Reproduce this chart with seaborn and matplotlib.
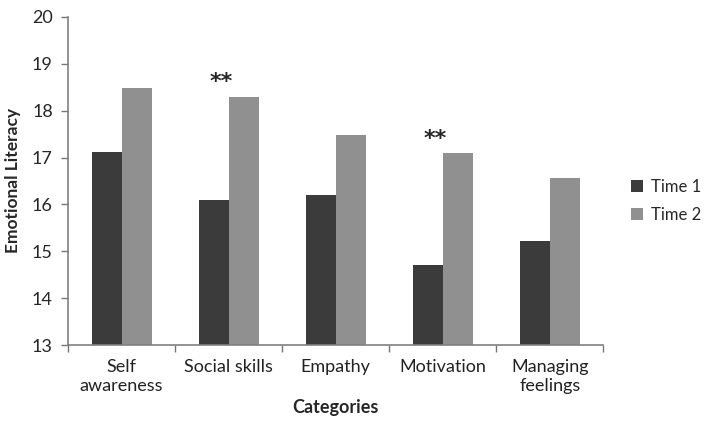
import pandas as pd
import seaborn as sns
import matplotlib.pyplot as plt

# chart values
categories = ["Self\nawareness", "Social skills", "Empathy", "Motivation", "Managing\nfeelings"]
time1 = [17.12, 16.10, 16.20, 14.70, 15.23]
time2 = [18.49, 18.29, 17.49, 17.09, 16.56]
series = ["Time 1", "Time 2"]
stars = {"Social skills": "**", "Motivation": "**"}

df = pd.DataFrame({
    "Categories": categories * 2,
    "Emotional Literacy": time1 + time2,
    "Series": [series[0]] * len(categories) + [series[1]] * len(categories),
})

sns.set_style("white")
plt.rcParams["font.family"] = ["Lato", "DejaVu Sans"]

fig = plt.figure(figsize=(7.09, 4.42), dpi=100)
ax = fig.add_axes([0.096, 0.219, 0.755, 0.743])

sns.barplot(
    data=df, x="Categories", y="Emotional Literacy", hue="Series",
    palette=["#3b3b3b", "#909090"], width=0.56, saturation=1,
    linewidth=0, ax=ax,
)

ax.set_ylim(13, 20)
ax.set_xlim(-0.5, len(categories) - 0.5)
ax.set_yticks(range(13, 21))
ax.tick_params(axis="y", labelsize=13, length=5, width=1, color="#777777", direction="out", left=True, pad=6)
ax.tick_params(axis="x", which="major", labelsize=13, length=0, pad=10, labelcolor="#222222")
ax.set_xticks([i - 0.5 for i in range(len(categories) + 1)], minor=True)
ax.tick_params(axis="x", which="minor", length=5, width=1, color="#777777", direction="out", bottom=True)

for side in ["top", "right"]:
    ax.spines[side].set_visible(False)
for side in ["left", "bottom"]:
    ax.spines[side].set_color("#808080")
    ax.spines[side].set_linewidth(1.2)

ax.set_xlabel("Categories", fontsize=13, fontweight="bold", labelpad=4)
ax.set_ylabel("Emotional Literacy", fontsize=12.5, fontweight="bold", labelpad=8)

for i, cat in enumerate(categories):
    if cat in stars:
        ax.text(i - 0.07, time2[i] + 0.1, stars[cat], ha="center", va="bottom",
                fontsize=16, fontweight="bold", family="DejaVu Sans")

ax.legend(
    title=None, frameon=False, fontsize=12, loc="center left",
    bbox_to_anchor=(1.03, 0.44), borderaxespad=0.3, handlelength=0.7, handleheight=0.7,
    labelspacing=0.7, handletextpad=0.5,
)

fig.savefig("out.png", dpi=100)
